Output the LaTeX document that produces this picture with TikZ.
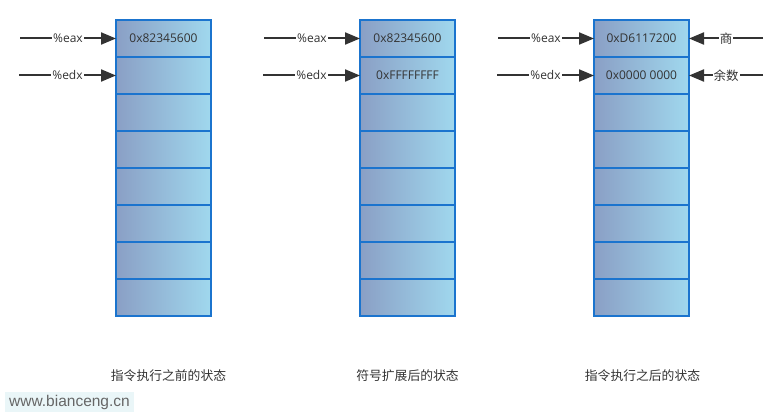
\documentclass[tikz,border=0pt]{standalone}
\usepackage{fontspec}
\setmainfont{Open Sans}
\newfontfamily\cjk{Noto Sans CJK SC}
\newfontfamily\wmfont{Liberation Sans}
\usetikzlibrary{arrows.meta}
\definecolor{cellL}{HTML}{8A9FC5}
\definecolor{cellR}{HTML}{A0D8EE}
\definecolor{cellB}{HTML}{1B74CE}
\definecolor{arrC}{HTML}{333333}
\definecolor{wmbg}{HTML}{EAF6F8}
\definecolor{wmtx}{HTML}{666666}
\tikzset{
  cell/.style={draw=cellB, line width=2pt, left color=cellL, right color=cellR,
    minimum width=95pt, minimum height=37pt, inner sep=0pt, outer sep=0pt},
  celltext/.style={font=\fontsize{12}{14}\selectfont, text=arrC},
  arr/.style={draw=arrC, line width=2pt, -{Triangle[length=15pt,width=12pt]}},
  lbl/.style={fill=white, inner sep=1pt, font=\fontsize{12}{14}\selectfont, text=arrC},
  cjklbl/.style={fill=white, inner sep=1pt, font=\cjk\fontsize{12.5}{14}\selectfont, text=arrC},
  caption/.style={font=\cjk\fontsize{12.8}{14}\selectfont, text=arrC},
}
\begin{document}
\begin{tikzpicture}[x=1pt,y=-1pt]
\useasboundingbox (0,0) rectangle (782,417);
% cells
\foreach \b/\x in {1/163.5, 2/407.5, 3/641.5}{
  \foreach \r in {1,...,8}{
    \node[cell] (b\b r\r) at (\x, {20+37*(\r-0.5)}) {};
  }
}
\node[celltext] (t11) at (b1r1) {0x82345600};
\node[celltext] (t21) at (b2r1) {0x82345600};
\node[celltext] (t22) at (b2r2) {0xFFFFFFFF};
\node[celltext] (t31) at (b3r1) {0xD6117200};
\node[celltext] (t32) at (b3r2) {0x0000 0000};
% arrow starts
\coordinate (s1a) at (20,38.5);
\coordinate (s1d) at (19,75.5);
\coordinate (s2a) at (264,38.5);
\coordinate (s2d) at (263,75.5);
\coordinate (s3a) at (498,38.5);
\coordinate (s3d) at (497,75.5);
\coordinate (r3a) at (763,38.5);
\coordinate (r3d) at (763,75.5);
\draw[arr] (s1a) -- (b1r1.west) node[midway,lbl]{\%eax};
\draw[arr] (s1d) -- (b1r2.west) node[midway,lbl]{\%edx};
\draw[arr] (s2a) -- (b2r1.west) node[midway,lbl]{\%eax};
\draw[arr] (s2d) -- (b2r2.west) node[midway,lbl]{\%edx};
\draw[arr] (s3a) -- (b3r1.west) node[midway,lbl]{\%eax};
\draw[arr] (s3d) -- (b3r2.west) node[midway,lbl]{\%edx};
\draw[arr] (r3a) -- (b3r1.east) node[midway,cjklbl]{商};
\draw[arr] (r3d) -- (b3r2.east) node[midway,cjklbl]{余数};
% captions
\node[caption] (c1) at (168.5,376) {指令执行之前的状态};
\node[caption] (c2) at (407.5,376) {符号扩展后的状态};
\node[caption] (c3) at (642.5,376) {指令执行之后的状态};
% watermark
\node[fill=wmbg, minimum width=129pt, minimum height=20pt, inner sep=0pt,
  text=wmtx, font=\wmfont\fontsize{15.5}{17}\selectfont] (wm) at (69.5,402) {www.bianceng.cn};
\end{tikzpicture}
\end{document}
